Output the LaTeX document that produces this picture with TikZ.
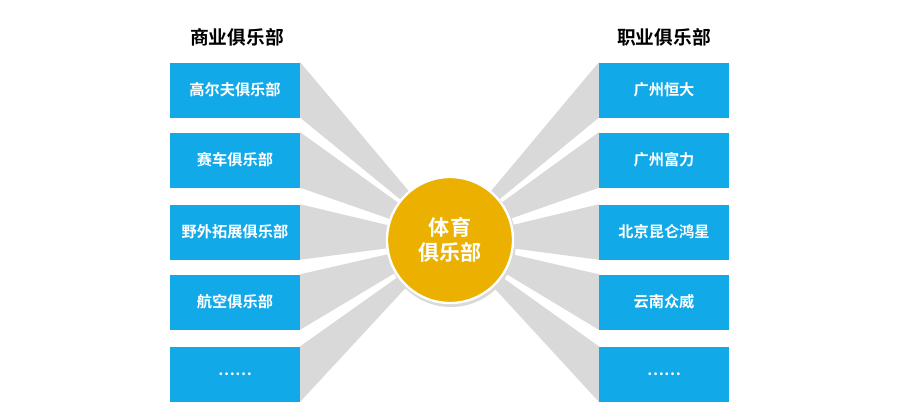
\documentclass[tikz,border=0pt]{standalone}
\usepackage{fontspec}
\setmainfont{Noto Sans CJK SC}[BoldFont={Noto Sans CJK SC Bold}]
\begin{document}
\begin{tikzpicture}[x=0.03cm,y=-0.03cm,
  club/.style={fill=boxblue,minimum width=130*0.03cm,minimum height=55*0.03cm,inner sep=0pt,text=white,font=\bfseries\fontsize{13}{15}\selectfont,drop shadow/.style={}},
  wedge/.style={fill=wedgegray},
  title/.style={font=\bfseries\fontsize{16}{18}\selectfont}]
\definecolor{boxblue}{HTML}{12A9E9}
\definecolor{wedgegray}{HTML}{D9D9D9}
\definecolor{gold}{HTML}{EBB000}
\path[use as bounding box] (0,0) rectangle (900,417);
\coordinate (c) at (450,240);
\foreach \y/\t [count=\i] in {90/高尔夫俱乐部,160/赛车俱乐部,232/野外拓展俱乐部,302/航空俱乐部,374/\textbf{……}}{
  \node[club] (L\i) at (235,\y) {\t};
}
\foreach \y/\t [count=\i] in {90/广州恒大,160/广州富力,232/北京昆仑鸿星,302/云南众威,374/……}{
  \node[club] (R\i) at (664,\y) {\t};
}
\begin{scope}[on background layer/.try]
\end{scope}
\foreach \i in {1,...,5}{
  \fill[wedgegray] (L\i.north east) -- (L\i.south east) -- (c) -- cycle;
  \fill[wedgegray] (R\i.north west) -- (R\i.south west) -- (c) -- cycle;
}
\foreach \y/\t [count=\i] in {90/高尔夫俱乐部,160/赛车俱乐部,232/野外拓展俱乐部,302/航空俱乐部,374/……}{
  \node[club] at (235,\y) {\t};
}
\foreach \y/\t [count=\i] in {90/广州恒大,160/广州富力,232/北京昆仑鸿星,302/云南众威,374/……}{
  \node[club] at (664,\y) {\t};
}
\fill[black!15] (451,242) circle[radius=65*0.03cm];
\node[circle,fill=gold,draw=white,line width=2pt,minimum size=126*0.03cm,inner sep=0pt,text=white,align=center,font=\bfseries\fontsize{18}{21}\selectfont] (hub) at (c) {体育\\俱乐部};
\node[title] (lt) at (237,37) {商业俱乐部};
\node[title] (rt) at (664,37) {职业俱乐部};
\end{tikzpicture}
\end{document}
